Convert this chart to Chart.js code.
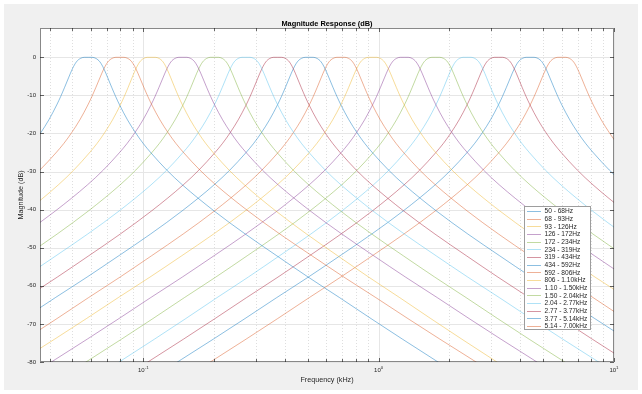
<!DOCTYPE html>
<html>
<head>
<meta charset="utf-8">
<title>Magnitude Response (dB)</title>
<script src="https://cdn.jsdelivr.net/npm/chart.js@4/dist/chart.umd.min.js"></script>
<style>
  html, body { margin: 0; padding: 0; background: #fff; }
  canvas { display: block; }
</style>
</head>
<body>
<canvas id="chart" width="642" height="394"></canvas>
<script>
// Filter bank band edges (Hz), 16 bands
const bandEdgesHz = [50, 68, 93, 126, 172, 234, 319, 434, 592, 806, 1100, 1500, 2040, 2770, 3770, 5140, 7000];
const bandLabels = [
  '50 - 68Hz', '68 - 93Hz', '93 - 126Hz', '126 - 172Hz', '172 - 234Hz', '234 - 319Hz',
  '319 - 434Hz', '434 - 592Hz', '592 - 806Hz', '806 - 1.10kHz', '1.10 - 1.50kHz',
  '1.50 - 2.04kHz', '2.04 - 2.77kHz', '2.77 - 3.77kHz', '3.77 - 5.14kHz', '5.14 - 7.00kHz'
];

// Response of one band: offset from band centre
// (in band widths, log scale) against magnitude in dB. Same shape for every band.
const offsetBands = [
  -17, -14, -12, -11, -10, -9, -8, -7, -6, -5, -4, -3, -2.5, -2, -1.75, -1.5, -1.25,
  -1, -0.875, -0.75, -0.625, -0.5, -0.375, -0.25, -0.125, 0,
  0.125, 0.25, 0.375, 0.5, 0.625, 0.75, 0.875, 1,
  1.25, 1.5, 1.75, 2, 2.5, 3, 4, 5, 6, 7, 8, 9, 10, 11, 12, 14, 17
];
const responseDb = [
  -111.6, -95.5, -84.7, -79.3, -74.0, -68.6, -63.1, -57.7, -52.1, -46.4, -40.3, -33.5, -29.6, -25.1, -22.6, -19.7, -16.4,
  -12.5, -10.3, -7.9, -5.4, -3.0, -1.2, -0.3, 0.0, 0.0,
  0.0, -0.3, -1.2, -3.0, -5.4, -7.9, -10.3, -12.5,
  -16.4, -19.7, -22.6, -25.1, -29.6, -33.5, -40.3, -46.4, -52.1, -57.7, -63.1, -68.6, -74.0, -79.3, -84.7, -95.5, -111.6
];

// axes
const xMin = 0.0364, xMax = 10;          // kHz
const yMin = -80, yMax = 7.7;            // dB
const xTickValues = [0.1, 1, 10];
const xTickExponents = ['-1', '0', '1'];
const xMinorValues = [0.04, 0.05, 0.06, 0.07, 0.08, 0.09, 0.2, 0.3, 0.4, 0.5, 0.6, 0.7, 0.8, 0.9,
  2, 3, 4, 5, 6, 7, 8, 9];
const yTickValues = [-80, -70, -60, -50, -40, -30, -20, -10, 0];

// MATLAB default colour order
const lineColors = ['0,114,189', '217,83,25', '237,177,32', '126,47,142', '119,172,48', '77,190,238', '162,20,47'];

const FONT = '"Liberation Sans", Arial, Helvetica, sans-serif';
const AXIS_GREY = '#262626';

const datasets = bandLabels.map(function (label, i) {
  const lo = bandEdgesHz[i] / 1000, hi = bandEdgesHz[i + 1] / 1000;
  const centre = Math.sqrt(lo * hi), step = hi / lo;
  return {
    label: label,
    data: offsetBands.map(function (k, j) {
      return { x: centre * Math.pow(step, k), y: responseDb[j] };
    }),
    borderColor: 'rgba(' + lineColors[i % lineColors.length] + ',0.45)',
    borderWidth: 1,
    pointRadius: 0,
    fill: false,
    cubicInterpolationMode: 'monotone'
  };
});

function hLine(ctx, x1, y1, x2, y2) {
  ctx.beginPath();
  ctx.moveTo(x1, y1);
  ctx.lineTo(x2, y2);
  ctx.stroke();
}

const figurePlugin = {
  id: 'figure',
  beforeDraw: function (chart) {
    const ctx = chart.ctx, a = chart.chartArea;
    ctx.save();
    ctx.fillStyle = '#ffffff';
    ctx.fillRect(0, 0, chart.width, chart.height);
    ctx.fillStyle = '#f0f0f0';
    ctx.fillRect(4, 4, chart.width - 8, chart.height - 8);
    ctx.fillStyle = '#ffffff';
    ctx.fillRect(a.left, a.top, a.right - a.left, a.bottom - a.top);
    ctx.restore();
  },
  beforeDatasetsDraw: function (chart) {
    const ctx = chart.ctx, a = chart.chartArea;
    const xs = chart.scales.x, ys = chart.scales.y;
    ctx.save();
    ctx.lineWidth = 1;
    // minor grid, dotted
    ctx.strokeStyle = '#dedede';
    ctx.setLineDash([1, 2]);
    xMinorValues.forEach(function (v) {
      const px = Math.round(xs.getPixelForValue(v)) + 0.5;
      hLine(ctx, px, a.top, px, a.bottom);
    });
    // major grid
    ctx.setLineDash([]);
    ctx.strokeStyle = '#e6e6e6';
    xTickValues.forEach(function (v) {
      const px = Math.round(xs.getPixelForValue(v)) + 0.5;
      hLine(ctx, px, a.top, px, a.bottom);
    });
    yTickValues.forEach(function (v) {
      const py = Math.round(ys.getPixelForValue(v)) + 0.5;
      hLine(ctx, a.left, py, a.right, py);
    });
    ctx.restore();
  },
  afterDatasetsDraw: function (chart) {
    const ctx = chart.ctx, a = chart.chartArea;
    const xs = chart.scales.x, ys = chart.scales.y;
    ctx.save();
    // axes box
    ctx.lineWidth = 1;
    ctx.strokeStyle = 'rgba(38,38,38,0.55)';
    ctx.strokeRect(a.left + 0.5, a.top + 0.5, a.right - a.left - 1, a.bottom - a.top - 1);
    // inward tick marks
    ctx.strokeStyle = 'rgba(38,38,38,0.7)';
    xMinorValues.concat(xTickValues).forEach(function (v) {
      const px = Math.round(xs.getPixelForValue(v)) + 0.5;
      const len = xTickValues.indexOf(v) >= 0 ? 4 : 3;
      hLine(ctx, px, a.bottom, px, a.bottom - len);
      hLine(ctx, px, a.top, px, a.top + len);
    });
    yTickValues.forEach(function (v) {
      const py = Math.round(ys.getPixelForValue(v)) + 0.5;
      hLine(ctx, a.left, py, a.left + 4, py);
      hLine(ctx, a.right, py, a.right - 4, py);
    });

    // legend
    const lx = 524, ly = 206, lw = 67, lh = 124, row = 7.67;
    ctx.fillStyle = '#ffffff';
    ctx.fillRect(lx, ly, lw, lh);
    ctx.strokeStyle = 'rgba(38,38,38,0.45)';
    ctx.strokeRect(lx + 0.5, ly + 0.5, lw - 1, lh - 1);
    ctx.font = '6.6px ' + FONT;
    ctx.textBaseline = 'middle';
    ctx.textAlign = 'left';
    chart.data.datasets.forEach(function (ds, i) {
      const cy = ly + 5 + i * row;
      ctx.strokeStyle = ds.borderColor;
      hLine(ctx, lx + 3, Math.round(cy) + 0.5, lx + 17, Math.round(cy) + 0.5);
      ctx.fillStyle = AXIS_GREY;
      ctx.fillText(ds.label, lx + 20.5, cy + 0.5);
    });
    ctx.restore();
  },
  afterDraw: function (chart) {
    const ctx = chart.ctx, a = chart.chartArea;
    const xs = chart.scales.x;
    const cx = (a.left + a.right) / 2;
    ctx.save();
    ctx.fillStyle = '#000000';
    ctx.textAlign = 'center';
    ctx.textBaseline = 'middle';
    ctx.font = 'bold 7.4px ' + FONT;
    ctx.fillText('Magnitude Response (dB)', cx, 23.5);

    ctx.fillStyle = AXIS_GREY;
    ctx.font = '7.2px ' + FONT;
    ctx.fillText('Frequency (kHz)', cx, 380.5);
    ctx.save();
    ctx.translate(21.5, (a.top + a.bottom) / 2);
    ctx.rotate(-Math.PI / 2);
    ctx.fillText('Magnitude (dB)', 0, 0);
    ctx.restore();

    // x tick labels, 10 with superscript exponent
    xTickValues.forEach(function (v, i) {
      const px = xs.getPixelForValue(v);
      ctx.font = '6px ' + FONT;
      const wBase = ctx.measureText('10').width;
      ctx.font = '4.4px ' + FONT;
      const wExp = ctx.measureText(xTickExponents[i]).width;
      const x0 = px - (wBase + wExp) / 2;
      ctx.textAlign = 'left';
      ctx.font = '6px ' + FONT;
      ctx.fillText('10', x0, 370.5);
      ctx.font = '4.4px ' + FONT;
      ctx.fillText(xTickExponents[i], x0 + wBase, 367.5);
    });
    ctx.restore();
  }
};

new Chart(document.getElementById('chart'), {
  type: 'line',
  data: { datasets: datasets },
  plugins: [figurePlugin],
  options: {
    responsive: false,
    animation: false,
    devicePixelRatio: 1,
    layout: { padding: { left: 0, right: 28, top: 28, bottom: 0 } },
    scales: {
      x: {
        type: 'logarithmic',
        min: xMin,
        max: xMax,
        afterBuildTicks: function (scale) {
          scale.ticks = xTickValues.map(function (v) { return { value: v }; });
        },
        afterFit: function (scale) { scale.height = 32; },
        ticks: { display: false },
        grid: { display: false, drawTicks: false },
        border: { display: false }
      },
      y: {
        type: 'linear',
        min: yMin,
        max: yMax,
        afterBuildTicks: function (scale) {
          scale.ticks = yTickValues.map(function (v) { return { value: v }; });
        },
        afterFit: function (scale) { scale.width = 40; },
        ticks: {
          padding: 4,
          color: AXIS_GREY,
          font: { family: FONT, size: 6 },
          callback: function (v) { return String(v); }
        },
        grid: { display: false, drawTicks: false },
        border: { display: false }
      }
    },
    plugins: {
      legend: { display: false },
      title: { display: false },
      tooltip: { enabled: false }
    }
  }
});
</script>
</body>
</html>
